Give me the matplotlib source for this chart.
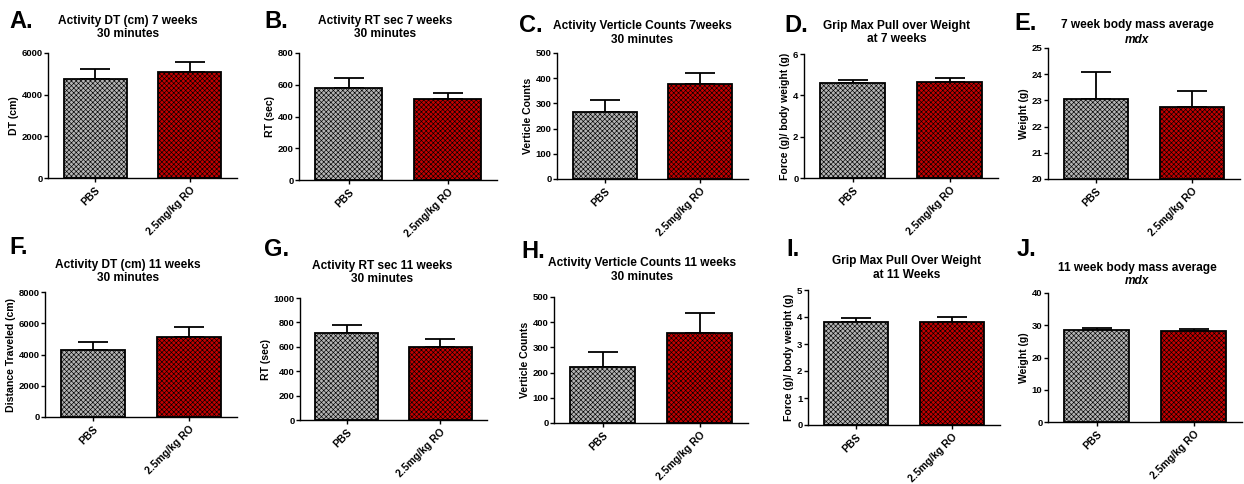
import matplotlib
matplotlib.use('Agg')
import matplotlib.pyplot as plt

plt.rcParams['font.family'] = ['Liberation Sans', 'DejaVu Sans']
plt.rcParams['font.weight'] = 'bold'
plt.rcParams['hatch.linewidth'] = 0.45

groups = ['PBS', '2.5mg/kg RO']

letters = ['A.', 'B.', 'C.', 'D.', 'E.', 'F.', 'G.', 'H.', 'I.', 'J.']
titles = [
    ('Activity DT (cm) 7 weeks', '30 minutes'),
    ('Activity RT sec 7 weeks', '30 minutes'),
    ('Activity Verticle Counts 7weeks', '30 minutes'),
    ('Grip Max Pull over Weight', 'at 7 weeks'),
    ('7 week body mass average', 'mdx'),
    ('Activity DT (cm) 11 weeks', '30 minutes'),
    ('Activity RT sec 11 weeks', '30 minutes'),
    ('Activity Verticle Counts 11 weeks', '30 minutes'),
    ('Grip Max Pull Over Weight', 'at 11 Weeks'),
    ('11 week body mass average', 'mdx'),
]
ylabels = ['DT (cm)', 'RT (sec)', 'Verticle Counts', 'Force (g)/ body weight (g)', 'Weight (g)',
           'Distance Traveled (cm)', 'RT (sec)', 'Verticle Counts', 'Force (g)/ body weight (g)',
           'Weight (g)']

# means (PBS, RO) and SEM
means = [
    [4750, 5080],
    [582, 508],
    [265, 378],
    [4.58, 4.63],
    [23.07, 22.75],
    [4300, 5130],
    [714, 600],
    [222, 358],
    [3.82, 3.80],
    [28.5, 28.1],
]
errs = [
    [500, 480],
    [62, 37],
    [47, 43],
    [0.15, 0.2],
    [1.02, 0.62],
    [530, 660],
    [68, 65],
    [60, 80],
    [0.14, 0.19],
    [0.7, 0.7],
]
yranges = [(0, 6000), (0, 800), (0, 500), (0, 6), (20, 25),
           (0, 8000), (0, 1000), (0, 500), (0, 5), (0, 40)]
yticks = [
    [0, 2000, 4000, 6000],
    [0, 200, 400, 600, 800],
    [0, 100, 200, 300, 400, 500],
    [0, 2, 4, 6],
    [20, 21, 22, 23, 24, 25],
    [0, 2000, 4000, 6000, 8000],
    [0, 200, 400, 600, 800, 1000],
    [0, 100, 200, 300, 400, 500],
    [0, 1, 2, 3, 4, 5],
    [0, 10, 20, 30, 40],
]

# axes boxes in pixels: x0, x1, ytop, ybottom
boxes = [
    (48, 237, 53, 178), (299, 497, 53, 180), (557, 748, 53, 179),
    (804, 998, 54, 178), (1048, 1240, 48, 179),
    (45, 237, 292, 417), (300, 487, 298, 420), (554, 748, 297, 423),
    (808, 1000, 290, 425), (1048, 1242, 293, 422),
]
# title centre x, line1 y, line2 y
title_pos = [(128, 21, 34), (385, 21, 34), (642, 26, 40), (897, 26, 39), (1137, 25, 40),
             (128, 265, 278), (382, 266, 279), (642, 263, 277), (907, 261, 275), (1137, 268, 281)]
letter_pos = [(9, 22), (264, 22), (519, 25), (784, 25), (1014, 23),
              (9, 247), (264, 249), (521, 251), (786, 250), (1017, 250)]

W, H = 1244, 484
fig = plt.figure(figsize=(W / 100, H / 100), dpi=100)

colors = ['#b4b4b4', '#c20000']

for i in range(10):
    x0, x1, yt, yb = boxes[i]
    ax = fig.add_axes([x0 / W, 1 - yb / H, (x1 - x0) / W, (yb - yt) / H])
    lo = yranges[i][0]
    ax.bar([0, 1], [m - lo for m in means[i]], bottom=lo, width=0.67,
           color=colors, edgecolor='black', linewidth=1.3, hatch='xxxxxxx', zorder=2)
    ax.errorbar([0, 1], means[i], yerr=[[0, 0], errs[i]], fmt='none',
                ecolor='black', elinewidth=1.3, capsize=11, capthick=1.3, zorder=1)
    ax.set_xlim(-0.5, 1.5)
    ax.set_ylim(*yranges[i])
    ax.set_yticks(yticks[i])
    ax.set_xticks([0, 1])
    ax.set_xticklabels(groups, rotation=45, ha='right', rotation_mode='anchor', fontsize=7.5)
    ax.tick_params(axis='y', labelsize=6.8, length=3, width=1, pad=1)
    ax.tick_params(axis='x', length=3, width=1, pad=2)
    for s in ['top', 'right']:
        ax.spines[s].set_visible(False)
    for s in ['left', 'bottom']:
        ax.spines[s].set_linewidth(1)
    ax.set_ylabel(ylabels[i], fontsize=7.6, fontweight='bold', labelpad=2)

    tx, ty1, ty2 = title_pos[i]
    fig.text(tx / W, 1 - ty1 / H, titles[i][0], ha='center', va='center', fontsize=8.6, fontweight='bold')
    style = 'italic' if titles[i][1] == 'mdx' else 'normal'
    fig.text(tx / W, 1 - ty2 / H, titles[i][1], ha='center', va='center', fontsize=8.6,
             fontweight='bold', style=style)
    lx, ly = letter_pos[i]
    fig.text(lx / W, 1 - ly / H, letters[i], ha='left', va='center', fontsize=17, fontweight='bold')

fig.savefig('out.png', dpi=100)
